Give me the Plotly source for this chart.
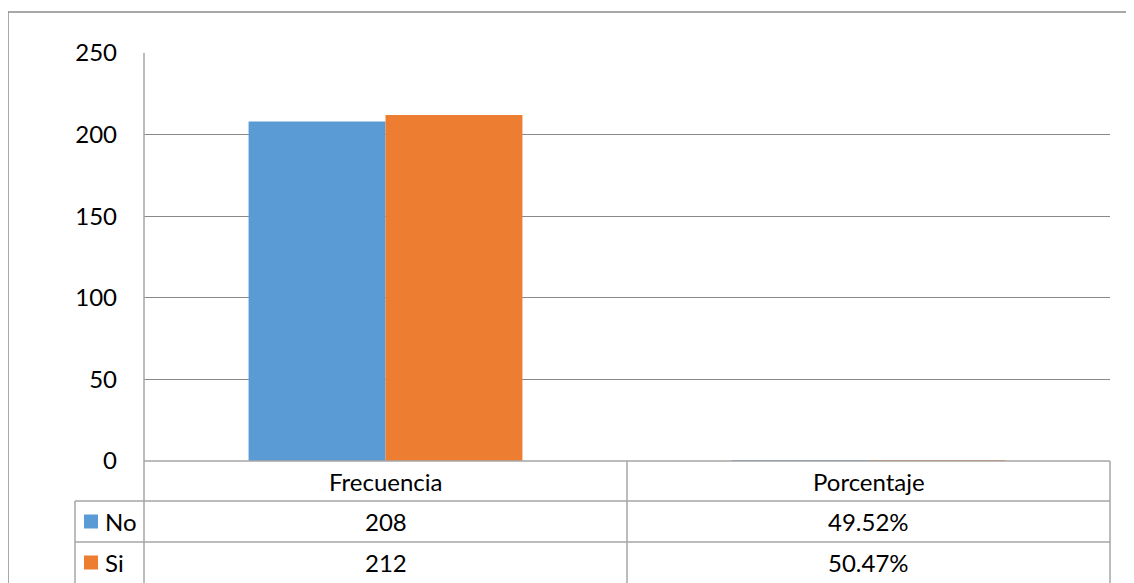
import plotly.graph_objects as go

categories = ["Frecuencia", "Porcentaje"]
series_names = ["No", "Si"]
no_values = [208, 0.4952]
si_values = [212, 0.5047]
no_labels = ["208", "49.52%"]
si_labels = ["212", "50.47%"]
y_ticks = [0, 50, 100, 150, 200, 250]
colors = ["#5B9BD5", "#ED7D31"]

# page body has an 8px margin; figure coords = screen coords - 8
OFF = 8
W, H = 1134 - OFF, 583 - OFF
L, T = 144 - OFF, 53 - OFF
R = W - (1110 - OFF)
B = H - (461 - OFF)
PW, PH = W - L - R, H - T - B
FONT = "Lato"
FS = 24
GRID = "#898989"
BORDER = "#A6A6A6"

def px(x):
    return (x - OFF - L) / PW

def py(y):
    return (H - B - (y - OFF)) / PH

fig = go.Figure()
for name, vals, col in zip(series_names, [no_values, si_values], colors):
    fig.add_trace(go.Bar(x=categories, y=vals, name=name, marker=dict(color=col, line=dict(width=0))))

shapes = []
shapes.append(dict(type="rect", xref="paper", yref="paper", x0=px(8), x1=px(1150), y0=py(12), y1=py(600),
                   line=dict(color="#8C8C8C", width=1.5), fillcolor="rgba(0,0,0,0)", layer="below"))
row_tops = [461, 501, 542, 583]
shapes.append(dict(type="line", xref="paper", yref="paper", x0=0, x1=1, y0=py(461), y1=py(461),
                   line=dict(color=BORDER, width=1.5)))
for yy in row_tops[1:3]:
    shapes.append(dict(type="line", xref="paper", yref="paper", x0=px(75), x1=1, y0=py(yy), y1=py(yy),
                       line=dict(color=BORDER, width=1.5)))
shapes.append(dict(type="line", xref="paper", yref="paper", x0=0, x1=0, y0=py(590), y1=1,
                   line=dict(color=BORDER, width=1.5)))
shapes.append(dict(type="line", xref="paper", yref="paper", x0=1, x1=1, y0=py(590), y1=py(461),
                   line=dict(color=BORDER, width=1.5)))
shapes.append(dict(type="line", xref="x", yref="paper", x0=0.5, x1=0.5, y0=py(590), y1=py(461),
                   line=dict(color=BORDER, width=1.5)))
shapes.append(dict(type="line", xref="paper", yref="paper", x0=px(75), x1=px(75), y0=py(590), y1=py(501),
                   line=dict(color=BORDER, width=1.5)))

annotations = []
for c in categories:
    annotations.append(dict(x=c, xref="x", y=py(481), yref="paper", text=c, showarrow=False,
                            font=dict(family=FONT, size=FS, color="#000"), xanchor="center", yanchor="middle"))
for r, (name, labels, col) in enumerate(zip(series_names, [no_labels, si_labels], colors)):
    yc = (row_tops[r + 1] + row_tops[r + 2]) / 2
    shapes.append(dict(type="rect", xref="paper", yref="paper", x0=px(84), x1=px(98),
                       y0=py(yc + 7), y1=py(yc - 7), fillcolor=col, line=dict(width=0)))
    annotations.append(dict(x=px(103), xref="paper", y=py(yc), yref="paper", text=name, showarrow=False,
                            font=dict(family=FONT, size=FS, color="#000"), xanchor="left", yanchor="middle"))
    for c, lab in zip(categories, labels):
        annotations.append(dict(x=c, xref="x", y=py(yc), yref="paper", text=lab, showarrow=False,
                                font=dict(family=FONT, size=FS, color="#000"), xanchor="center", yanchor="middle"))

fig.update_layout(
    width=W, height=H,
    margin=dict(l=L, r=R, t=T, b=B),
    paper_bgcolor="white", plot_bgcolor="white",
    barmode="group", bargap=0.433, bargroupgap=0,
    showlegend=False,
    shapes=shapes, annotations=annotations,
    xaxis=dict(showticklabels=False, showgrid=False, zeroline=False, showline=False, ticks=""),
    yaxis=dict(range=[0, 250], tickvals=y_ticks, showgrid=True, gridcolor=GRID, gridwidth=1,
               zeroline=False, showline=False, ticks="", ticklabelstandoff=26,
               tickfont=dict(family=FONT, size=FS, color="#000")),
)

fig.write_html("out.html")
